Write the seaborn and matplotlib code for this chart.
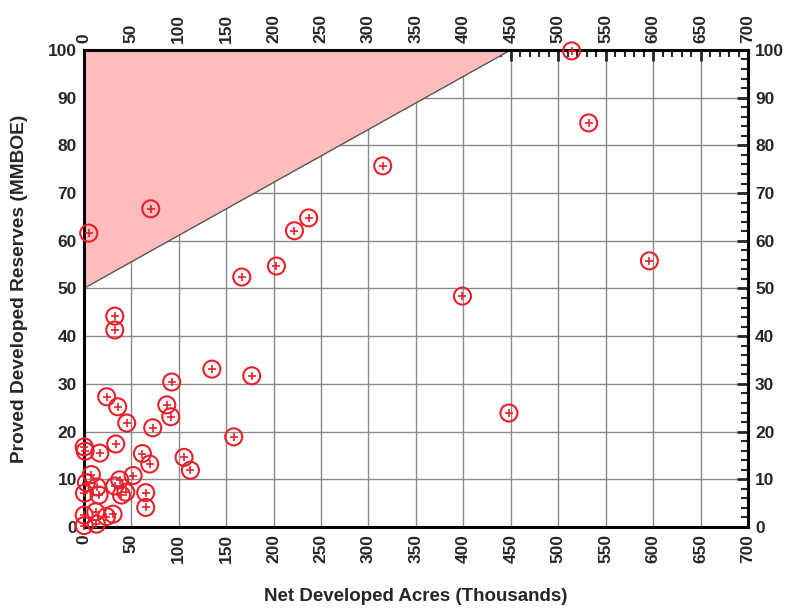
import matplotlib
matplotlib.use("Agg")
import matplotlib.pyplot as plt
import seaborn as sns
import numpy as np
import pandas as pd
from matplotlib.ticker import MultipleLocator

# Data: net developed acres (thousands) vs proved developed reserves (MMBOE)
acres = [514, 532, 596, 399, 448, 315, 237, 222, 203, 166.5, 70.6, 5.3, 32.7, 32.7,
         135, 177, 92.7, 158, 24.2, 35.8, 87.5, 91.7, 45.3, 72.7, 33.7, 0.5, 1.5,
         16.9, 61.8, 69.5, 105.7, 112.4, 8.1, 2.8, 0.8, 14, 16.1, 32.7, 37.9, 39.7,
         44.3, 52, 65.3, 65.3, 30.9, 23.9, 12.6, 13.4, 0.5, 0.5]
reserves = [99.8, 84.7, 55.8, 48.4, 23.9, 75.7, 64.8, 62.1, 54.7, 52.4, 66.7, 61.6, 44.2, 41.3,
            33.1, 31.7, 30.4, 18.9, 27.3, 25.2, 25.6, 23.1, 21.8, 20.8, 17.4, 16.8, 15.9,
            15.5, 15.4, 13.2, 14.6, 11.9, 11.0, 9.3, 7.1, 8.4, 6.7, 8.6, 9.9, 6.7,
            7.3, 10.8, 7.2, 4.1, 2.7, 2.2, 3.2, 0.6, 2.5, 0.3]
region_x = [0, 450, 0]
region_y = [50, 100, 100]
xticks = list(range(0, 701, 50))
yticks = list(range(0, 101, 10))

df = pd.DataFrame({"acres": acres, "reserves": reserves})

sns.set_style("white")
plt.rcParams["font.family"] = ["Liberation Sans", "DejaVu Sans"]
plt.rcParams["font.weight"] = "bold"

fig = plt.figure(figsize=(7.9, 6.09), dpi=100)
ax = fig.add_axes([0.106, 0.1346, 0.841, 0.7834])

ax.fill(region_x, region_y, facecolor="#ffbcbc", edgecolor="none", zorder=1)
ax.plot(region_x[:2], region_y[:2], color="#555555", lw=1.0, zorder=2)

sns.scatterplot(data=df, x="acres", y="reserves", ax=ax, marker="o", s=150,
                facecolor="none", edgecolor="#e8202a", linewidth=1.5, zorder=8,
                legend=False, clip_on=False)
sns.scatterplot(data=df, x="acres", y="reserves", ax=ax, marker="+", s=40,
                color="#e8202a", linewidth=1.2, zorder=9, legend=False, clip_on=False)

ax.set_xlim(0, 700)
ax.set_ylim(0, 100)
ax.set_xticks(xticks)
ax.set_yticks(yticks)
ax.xaxis.set_minor_locator(MultipleLocator(10))
ax.yaxis.set_minor_locator(MultipleLocator(2))
ax.grid(True, which="major", color="#8a8a8a", lw=1.0, zorder=0)
ax.set_axisbelow(True)

for s in ax.spines.values():
    s.set_linewidth(2.2)
    s.set_color("black")
    s.set_zorder(7)

ax.tick_params(axis="both", which="major", direction="in", length=8, width=2,
               top=True, right=True, labeltop=True, labelright=True,
               labelsize=12.5, pad=5)
ax.tick_params(axis="both", which="minor", direction="in", length=5, width=1.5,
               top=True, right=True)
ax.xaxis.set_tick_params(labelrotation=90)
for lab in ax.get_xticklabels() + ax.get_yticklabels():
    lab.set_fontweight("bold")

ax.set_xlabel("Net Developed Acres (Thousands)", fontsize=13.5, fontweight="bold", labelpad=18)
ax.set_ylabel("Proved Developed Reserves (MMBOE)", fontsize=13.8, fontweight="bold", labelpad=14)

fig.savefig("out.png", dpi=100)
